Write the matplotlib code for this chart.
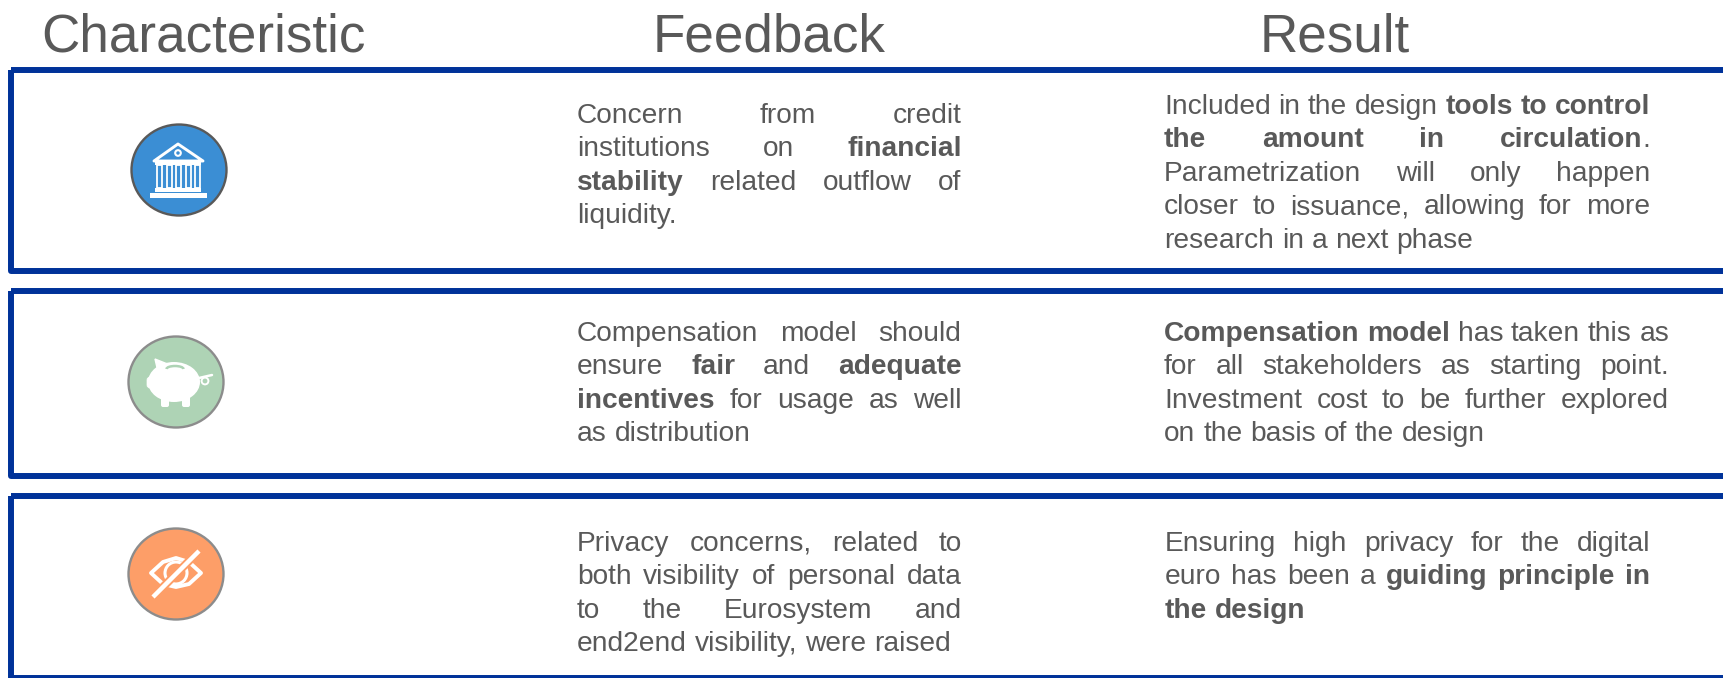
import matplotlib
matplotlib.use("Agg")
import matplotlib.pyplot as plt
from matplotlib.patches import Circle, Rectangle, Ellipse, Polygon, Arc, FancyBboxPatch
import numpy as np

W, H = 1723, 678
plt.rcParams['font.family'] = ['Liberation Sans', 'DejaVu Sans']

headers = ["Characteristic", "Feedback", "Result"]
header_x = [203, 769, 1335]

feedback = [
    ["Concern from credit", "institutions on **financial**", "**stability** related outflow of", "liquidity."],
    ["Compensation model should", "ensure **fair** and **adequate**", "**incentives** for usage as well", "as distribution"],
    ["Privacy concerns, related to", "both visibility of personal data", "to the Eurosystem and", "end2end visibility, were raised"],
]
result = [
    ["Included in the design **tools to control**", "**the amount in circulation**.",
     "Parametrization will only happen", "closer to issuance, allowing for more", "research in a next phase"],
    ["**Compensation model** has taken this as", "for all stakeholders as starting point.",
     "Investment cost to be further explored", "on the basis of the design"],
    ["Ensuring high privacy for the digital", "euro has been a **guiding principle in**", "**the design**"],
]
box_tops = [70, 291, 496]
box_bottoms = [271, 476, 678]
fb_base = [123, 341, 551]
res_base = [114, 341, 551]
res_right = [1650, 1669, 1650]
res_left = [1164, 1164, 1165]
circle_y = [170, 382, 574]
circle_x = [179, 176, 176]
circle_col = ["#3b8ed4", "#aed3b5", "#fd9e68"]
circle_edge = ["#595959", "#8c8c8c", "#8c8c8c"]

TXT = "#595959"
BLUE = "#003299"
FS = 20.25
LEAD = 33.4

fig = plt.figure(figsize=(W/100, H/100), dpi=100)
ax = fig.add_axes([0, 0, 1, 1])
ax.set_xlim(0, W); ax.set_ylim(H, 0); ax.axis('off')
rend = fig.canvas.get_renderer()


def width(s, bold):
    t = ax.text(0, 0, s, fontsize=FS, fontweight='bold' if bold else 'normal')
    w = t.get_window_extent(rend).width
    t.remove()
    return w


def tokens(line):
    out = []
    parts = line.split("**")
    prev_space = True
    for i, part in enumerate(parts):
        bold = i % 2 == 1
        if not part:
            continue
        words = part.split(" ")
        for j, w in enumerate(words):
            if not w:
                continue
            glued = j == 0 and out and not prev_space
            out.append((w, bold, bool(glued)))
        prev_space = part.endswith(" ")
    return out


def draw_line(line, x0, x1, y, justify):
    toks = tokens(line)
    ws = [width(t[0], t[1]) for t in toks]
    ngaps = sum(1 for t in toks[1:] if not t[2])
    space = width("a a", False) - width("aa", False)
    if justify and ngaps:
        gap = (x1 - x0 - sum(ws)) / ngaps
    else:
        gap = space
    x = x0
    for k, ((w, b, g), wd) in enumerate(zip(toks, ws)):
        if k and not g:
            x += gap
        ax.text(x, y, w, fontsize=FS, color=TXT, fontweight='bold' if b else 'normal',
                va='baseline', ha='left')
        x += wd


def draw_par(lines, x0, x1, y, justify_flags):
    for i, l in enumerate(lines):
        draw_line(l, x0, x1, y + i*LEAD, justify_flags[i])


for s, x in zip(headers, header_x):
    ax.text(x, 51, s, fontsize=38.2, color=TXT, ha='center', va='baseline')

for t, b in zip(box_tops, box_bottoms):
    ax.add_patch(Rectangle((11, t), W + 40, b - t, fill=False, ec=BLUE, lw=4.3,
                           joinstyle='round', clip_on=True))

for i in range(3):
    ax.add_patch(Ellipse((circle_x[i], circle_y[i]), 95, 91, fc=circle_col[i], ec=circle_edge[i], lw=1.7))

fb_just = [[1, 1, 1, 0], [1, 1, 1, 0], [1, 1, 1, 0]]
res_just = [[1, 1, 1, 1, 0], [1, 1, 1, 0], [1, 1, 0]]
for i in range(3):
    draw_par(feedback[i], 577, 961.5, fb_base[i], fb_just[i])
    draw_par(result[i], res_left[i], res_right[i], res_base[i], res_just[i])

# --- icons, drawn in offsets from circle centres ---
WH = "white"
# bank
cx, cy = circle_x[0], circle_y[0]
ax.add_patch(Polygon([[cx-25, cy-9], [cx-1, cy-26], [cx+24, cy-9]], closed=True, fill=False, ec=WH, lw=2.1, joinstyle='round'))
ax.add_patch(Circle((cx-1, cy-17), 2.8, fill=False, ec=WH, lw=1.5))
ax.add_patch(Rectangle((cx-24, cy-8), 46, 3, fc=WH, ec='none'))
for dx in [-22, -12.5, -3, 6.5, 16]:
    ax.add_patch(Rectangle((cx+dx, cy-5), 5, 23, fc='none', ec=WH, lw=1.3))
ax.add_patch(Rectangle((cx-24, cy+18), 46, 3.5, fc=WH, ec='none'))
ax.add_patch(Rectangle((cx-29, cy+23), 57, 5, fc=WH, ec='none'))

# piggy
cx, cy = circle_x[1], circle_y[1]
ax.add_patch(Ellipse((cx-2, cy+0), 52, 40, fc=WH, ec='none'))
ax.add_patch(Polygon([[cx-18, cy-10], [cx-21, cy-23], [cx-6, cy-17]], closed=True, fc=WH, ec=WH, lw=1))
ax.add_patch(FancyBboxPatch((cx-29, cy-5), 9, 11, boxstyle="round,pad=0,rounding_size=3", fc=WH, ec=WH, lw=0.5))
ax.add_patch(FancyBboxPatch((cx-15, cy+11), 8, 14, boxstyle="round,pad=0,rounding_size=2", fc=WH, ec='none'))
ax.add_patch(FancyBboxPatch((cx+6, cy+11), 8, 14, boxstyle="round,pad=0,rounding_size=2", fc=WH, ec='none'))
ax.add_patch(Arc((cx-1, cy-13), 17, 6, theta1=180, theta2=360, ec=circle_col[1], lw=1.8))
ax.plot([cx+23, cx+36], [cy-4, cy-7], color=WH, lw=1.8, solid_capstyle='round')
ax.add_patch(Circle((cx+29, cy-1), 3.4, fill=False, ec=WH, lw=1.4))

# eye
cx, cy = circle_x[2], circle_y[2]
xs = np.array([-25, -13, 0, 13, 25, 13, 0, -13])
ys = np.array([0, -11, -15, -11, 0, 11, 14, 11])
ax.add_patch(Polygon(np.c_[cx + xs, cy + ys - 1], closed=True, fill=False, ec=WH, lw=2.8, joinstyle='round'))
ax.add_patch(Circle((cx, cy-1), 11, fill=False, ec=WH, lw=2.2))
ax.plot([cx-23, cx+23], [cy+23, cy-23], color=circle_col[2], lw=6, solid_capstyle='butt')
ax.plot([cx-23, cx+23], [cy+23, cy-23], color=WH, lw=3.2, solid_capstyle='butt')

fig.savefig("out.png", dpi=100)
